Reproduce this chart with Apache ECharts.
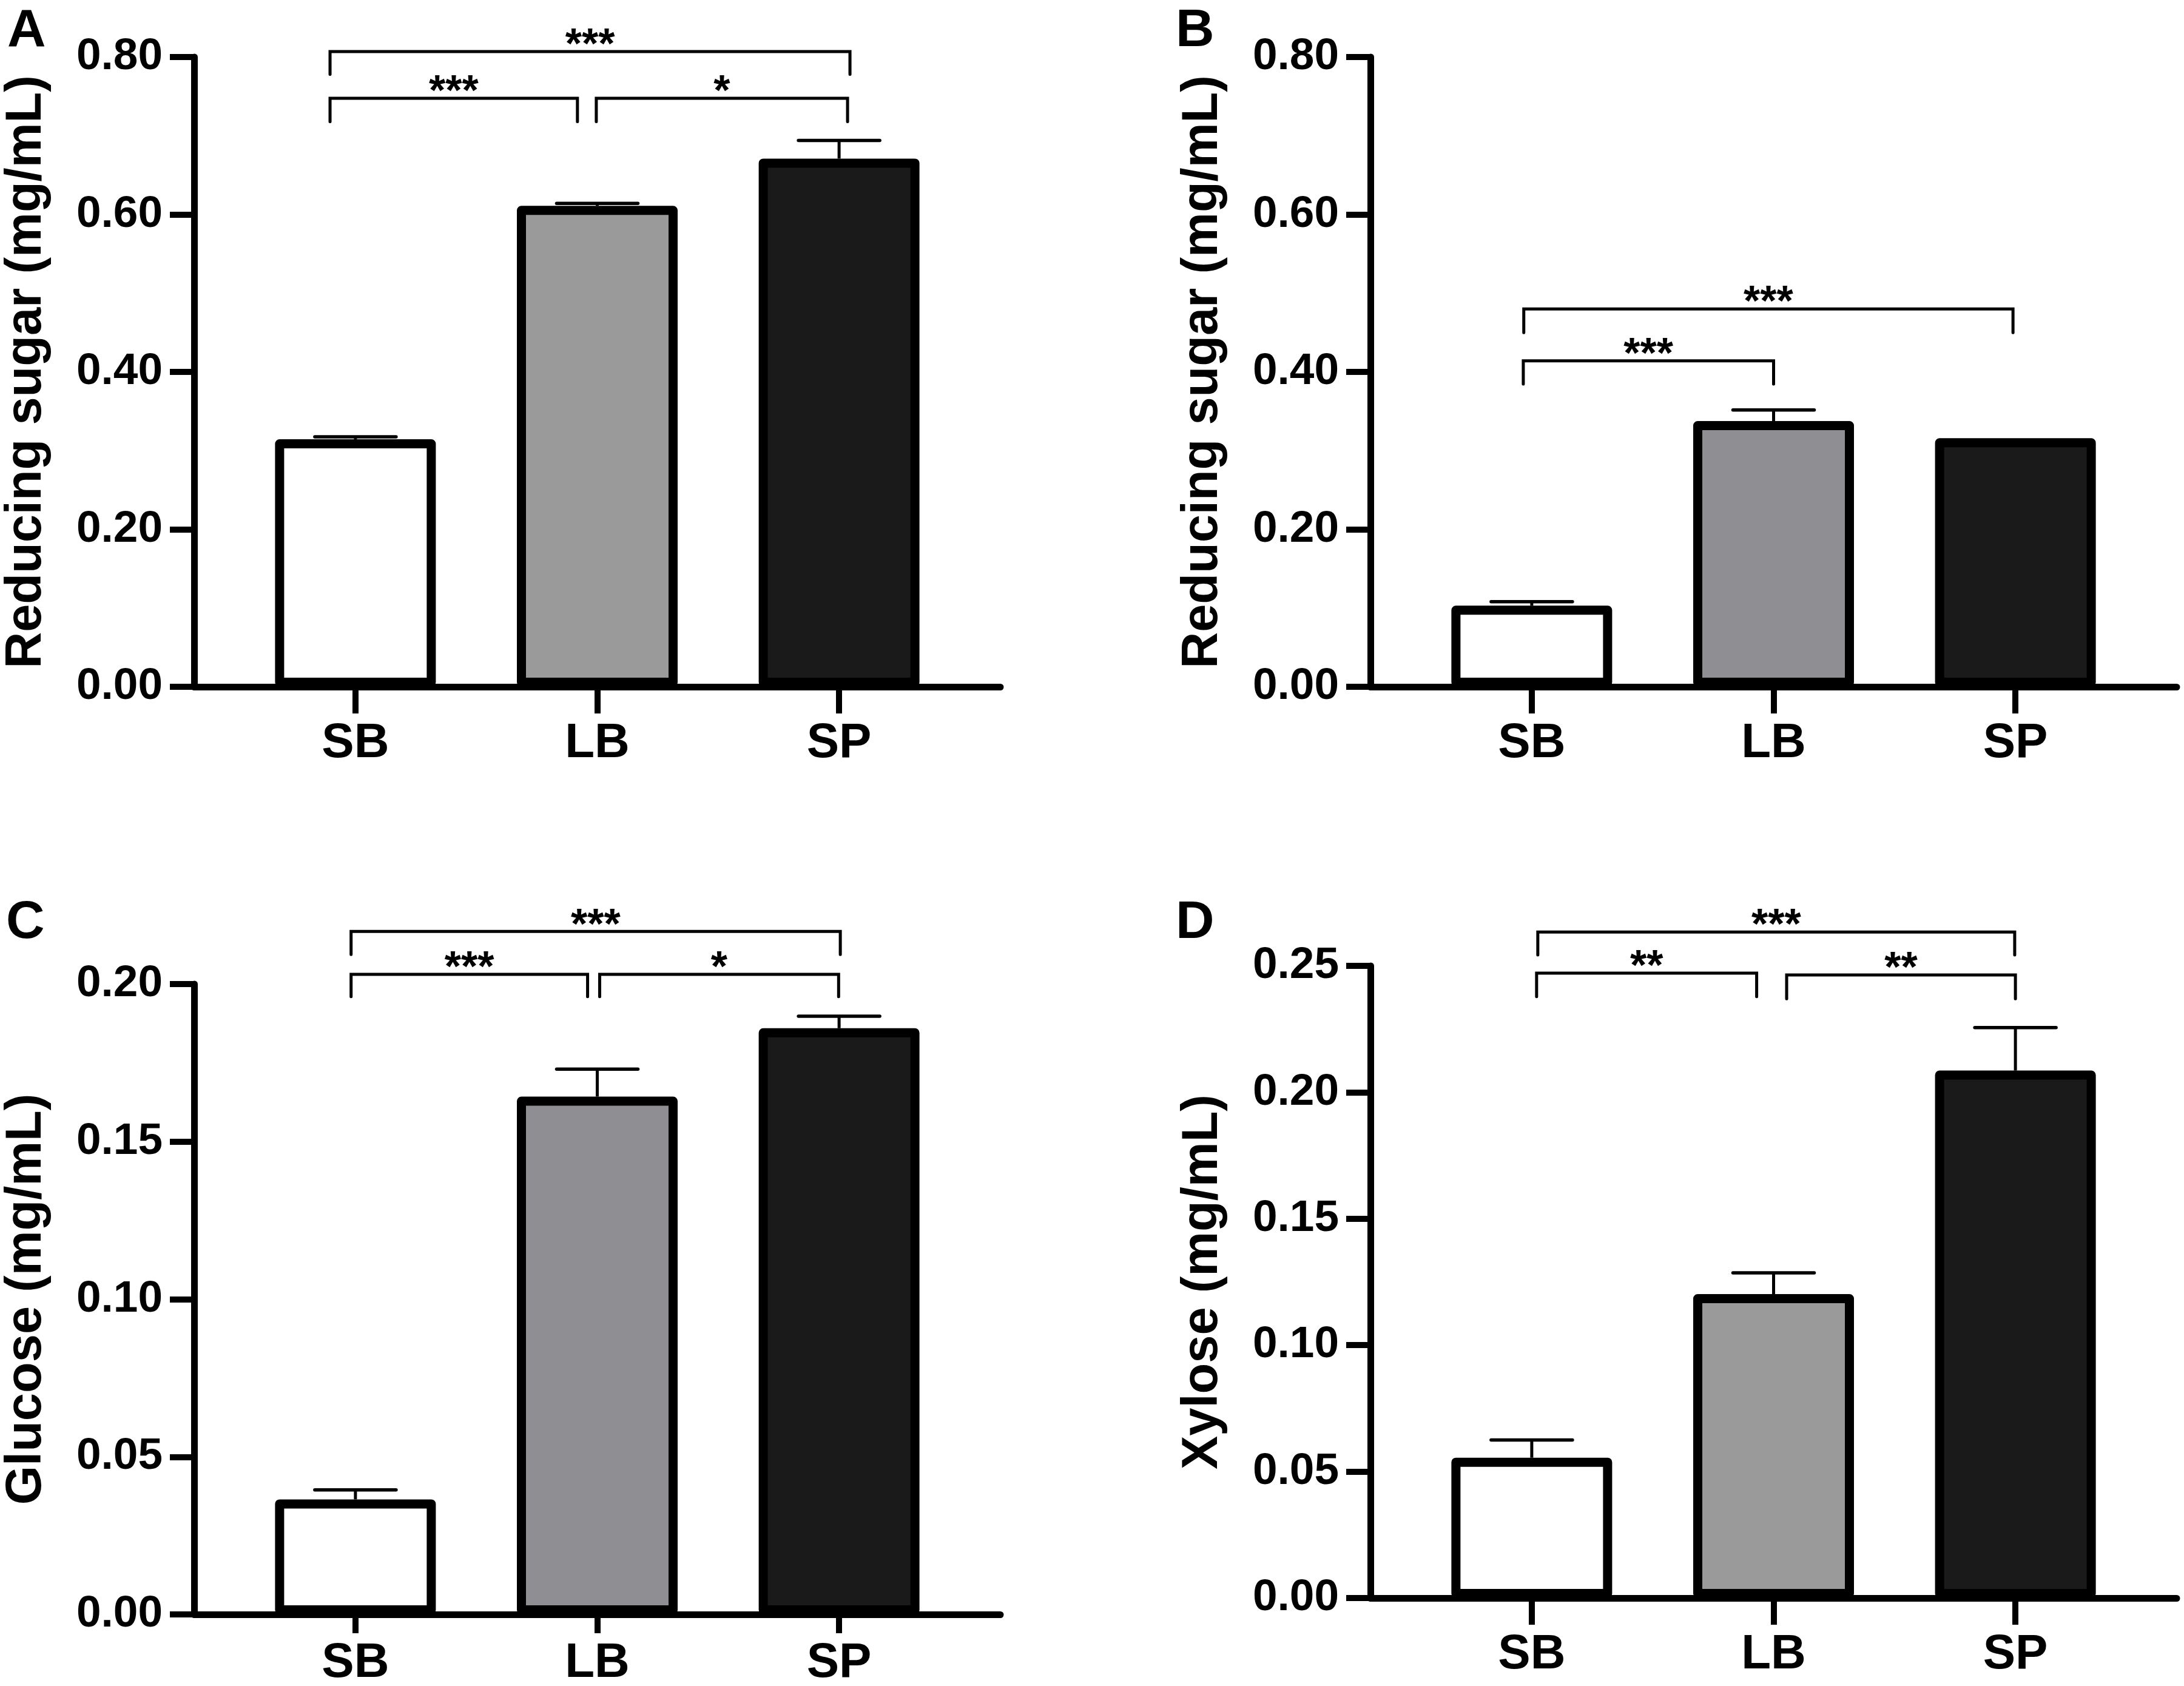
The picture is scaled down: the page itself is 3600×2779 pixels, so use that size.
<!DOCTYPE html>
<html>
<head>
<meta charset="utf-8">
<script src="https://cdn.jsdelivr.net/npm/echarts@6/dist/echarts.min.js"></script>
<style>
html,body{margin:0;padding:0;background:#fff;}
#main{width:3600px;height:2779px;}
</style>
</head>
<body>
<div id="main"></div>
<script>
// ---------- data ----------
const categories = ['SB', 'LB', 'SP'];

const sugarA = [0.3145, 0.611, 0.671];
const sugarAErr = [0.003, 0.003, 0.023];

const sugarB = [0.103, 0.3376, 0.3158];
const sugarBErr = [0.005, 0.014, 0];

const glucose = [0.0365, 0.1643, 0.186];
const glucoseErr = [0.003, 0.0087, 0.0038];

const xylose = [0.0555, 0.1202, 0.2086];
const xyloseErr = [0.007, 0.0084, 0.017];

// y axis ranges [max, interval]
const axisA = [0.8, 0.2];
const axisB = [0.8, 0.2];
const axisC = [0.2, 0.05];
const axisD = [0.25, 0.05];

// significance brackets: [xStart, xEnd, yLine, yLegEnd] (data units) and their labels
const bracketsA = [[-0.105, 2.045, 0.807, 0.778], [-0.105, 0.918, 0.7475, 0.718], [0.996, 2.035, 0.7475, 0.718]];
const starsA = ['***', '***', '*'];
const bracketsB = [[-0.033, 1.99, 0.480, 0.450], [-0.035, 1.0, 0.414, 0.3846]];
const starsB = ['***', '***'];
const bracketsC = [[-0.018, 2.005, 0.2167, 0.2094], [-0.018, 0.96, 0.2031, 0.196], [1.01, 1.998, 0.2031, 0.196]];
const starsC = ['***', '***', '*'];
const bracketsD = [[0.025, 1.997, 0.2634, 0.2543], [0.02, 0.93, 0.2471, 0.2378], [1.054, 2.0, 0.2464, 0.237]];
const starsD = ['***', '**', '**'];

const yNames = ['Reducing sugar (mg/mL)', 'Reducing sugar (mg/mL)', 'Glucose (mg/mL)', 'Xylose (mg/mL)'];
const panelLetters = ['A', 'B', 'C', 'D'];

// ---------- styling ----------
const FONT = 'Liberation Sans, Arial, Helvetica, sans-serif';
const grayAD = '#9a9a9a';
const grayBC = '#8f8e93';
const black = '#1a1a1a';

const grids = [
  {left: 320, top: 94, width: 1329, height: 1038},
  {left: 2259, top: 94, width: 1329, height: 1038},
  {left: 320, top: 1622, width: 1329, height: 1039},
  {left: 2259, top: 1592, width: 1329, height: 1042}
];
const xTickLen = [44, 44, 31, 44];
const xLabelMargin = [54, 54, 41, 54];

const panels = [
  {vals: sugarA, errs: sugarAErr, axis: axisA, br: bracketsA, st: starsA, gray: grayAD},
  {vals: sugarB, errs: sugarBErr, axis: axisB, br: bracketsB, st: starsB, gray: grayBC},
  {vals: glucose, errs: glucoseErr, axis: axisC, br: bracketsC, st: starsC, gray: grayBC},
  {vals: xylose, errs: xyloseErr, axis: axisD, br: bracketsD, st: starsD, gray: grayAD}
];

const xAxes = [], yAxes = [], series = [];

panels.forEach((p, i) => {
  xAxes.push({
    gridIndex: i, type: 'value', min: -0.667, max: 2.667,
    axisLine: {show: true, onZero: false, lineStyle: {color: '#000', width: 11}},
    axisTick: {show: true, customValues: [0, 1, 2], length: xTickLen[i], lineStyle: {color: '#000', width: 10}},
    axisLabel: {show: true, customValues: [0, 1, 2], margin: xLabelMargin[i],
      formatter: v => categories[Math.round(v)],
      color: '#000', fontSize: 80, fontWeight: 'bold', fontFamily: FONT},
    splitLine: {show: false}
  });
  yAxes.push({
    gridIndex: i, type: 'value', min: 0, max: p.axis[0], interval: p.axis[1],
    name: yNames[i], nameLocation: 'middle', nameGap: 234,
    nameTextStyle: {color: '#000', fontSize: 83, fontWeight: 'bold', fontFamily: FONT},
    axisLine: {show: true, onZero: false, lineStyle: {color: '#000', width: 11}},
    axisTick: {show: true, length: 40, lineStyle: {color: '#000', width: 10}},
    axisLabel: {show: true, margin: 52, formatter: v => v.toFixed(2),
      color: '#000', fontSize: 73, fontWeight: 'bold', fontFamily: FONT},
    splitLine: {show: false}
  });

  const colors = ['#ffffff', p.gray, black];

  // error bars (drawn behind the bars, upper part only visible)
  series.push({
    type: 'custom', xAxisIndex: i, yAxisIndex: i, z: 1, silent: true,
    data: p.vals.map((v, k) => [k, v, p.errs[k]]),
    renderItem: (params, api) => {
      const x = api.value(0), v = api.value(1), e = api.value(2);
      if (!e) return null;
      const b = api.coord([x, v]);
      const t = api.coord([x, v + e]);
      return {type: 'group', children: [
        {type: 'line', shape: {x1: b[0], y1: b[1], x2: t[0], y2: t[1]}, style: {stroke: '#000', lineWidth: 5}},
        {type: 'line', shape: {x1: t[0] - 67, y1: t[1], x2: t[0] + 67, y2: t[1]}, style: {stroke: '#000', lineWidth: 5.5, lineCap: 'round'}}
      ]};
    }
  });

  // bars
  series.push({
    type: 'bar', xAxisIndex: i, yAxisIndex: i, z: 2, barWidth: 265,
    data: p.vals.map((v, k) => ({value: [k, v], itemStyle: {color: colors[k]}})),
    itemStyle: {borderColor: '#000', borderWidth: 15, borderJoin: 'round'}
  });

  // significance brackets with star labels
  series.push({
    type: 'custom', xAxisIndex: i, yAxisIndex: i, z: 3, silent: true, clip: false,
    data: p.br.map(b => b.slice()),
    renderItem: (params, api) => {
      const x1 = api.value(0), x2 = api.value(1), y = api.value(2), yl = api.value(3);
      const a = api.coord([x1, yl]), b = api.coord([x1, y]), c = api.coord([x2, y]), d = api.coord([x2, yl]);
      return {type: 'group', children: [
        {type: 'polyline', shape: {points: [a, b, c, d]}, style: {stroke: '#000', lineWidth: 5, fill: null, lineCap: 'round'}},
        {type: 'text', x: (b[0] + c[0]) / 2, y: b[1] - 8,
          style: {text: p.st[params.dataIndex], fill: '#000', fontSize: 70, fontWeight: 'bold',
            fontFamily: FONT, align: 'center', verticalAlign: 'middle'}}
      ]};
    }
  });
});

const letterPos = [[12, 8], [1938, 8], [10, 1478], [1938, 1478]];
const graphics = panelLetters.map((t, i) => ({
  type: 'text', left: letterPos[i][0], top: letterPos[i][1],
  style: {text: t, fill: '#000', fontSize: 88, fontWeight: 'bold', fontFamily: FONT}
}));

const chart = echarts.init(document.getElementById('main'), null, {renderer: 'canvas'});
chart.setOption({
  backgroundColor: '#fff',
  animation: false,
  grid: grids.map(g => Object.assign({containLabel: false, outerBoundsMode: 'none'}, g)),
  xAxis: xAxes,
  yAxis: yAxes,
  series: series,
  graphic: graphics
});
</script>
</body>
</html>
